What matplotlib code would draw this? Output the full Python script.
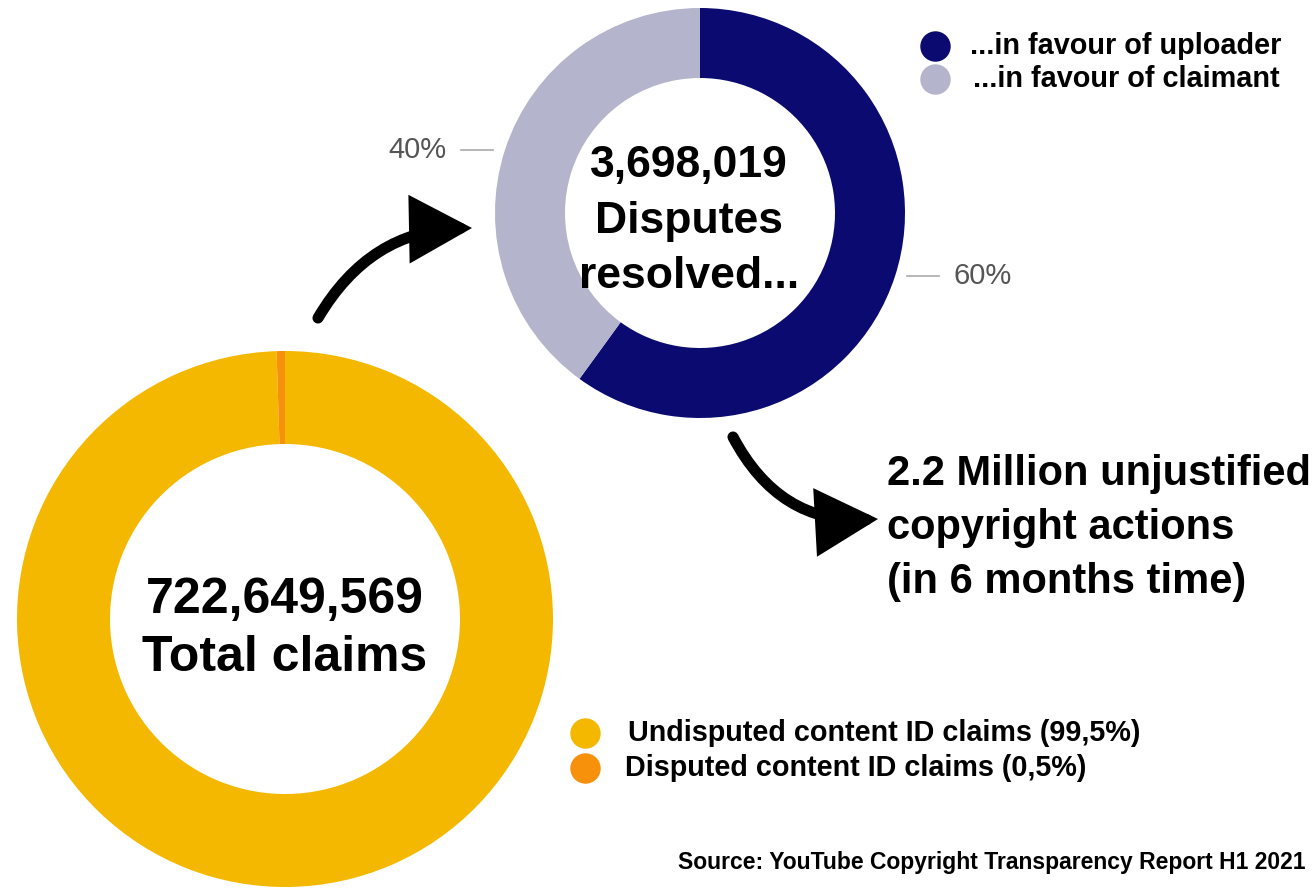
import numpy as np
import matplotlib.pyplot as plt
from matplotlib.patches import FancyArrowPatch

plt.rcParams['font.family'] = ['Liberation Sans', 'DejaVu Sans']

# data
total_labels = ['Undisputed content ID claims (99,5%)', 'Disputed content ID claims (0,5%)']
total_shares = [99.5, 0.5]
total_colors = ['#f5b800', '#f7900a']
total_count = '722,649,569'

dispute_labels = ['...in favour of uploader', '...in favour of claimant']
dispute_shares = [60, 40]
dispute_colors = ['#0a0a70', '#b4b4cc']
dispute_count = '3,698,019'

callout = '2.2 Million unjustified\ncopyright actions\n(in 6 months time)'
source = 'Source: YouTube Copyright Transparency Report H1 2021'

W, H = 1316, 889
fig = plt.figure(figsize=(W / 100, H / 100), dpi=100)
ax = fig.add_axes([0, 0, 1, 1])
ax.set_xlim(0, W)
ax.set_ylim(0, H)
ax.set_aspect('equal')
ax.axis('off')

# big donut (total claims)
big_c, big_r = (285, H - 619), 268
ax.pie(total_shares, colors=total_colors, startangle=90, counterclock=False,
       radius=big_r, center=big_c, frame=True,
       wedgeprops=dict(width=big_r - 175, linewidth=0))
ax.text(big_c[0], H - 629, total_count + '\nTotal claims', ha='center', va='center',
        fontsize=36, fontweight='bold', linespacing=1.36)

# small donut (disputes)
sm_c, sm_r = (700, H - 213), 205
wedges, _ = ax.pie(dispute_shares, colors=dispute_colors, startangle=90, counterclock=False,
                   radius=sm_r, center=sm_c, frame=True,
                   wedgeprops=dict(width=sm_r - 135, linewidth=0))
ax.text(689, H - 221, dispute_count + '\nDisputes\nresolved...', ha='center', va='center',
        fontsize=32, fontweight='bold', linespacing=1.44)

# percentage labels with horizontal leaders
for w, share in zip(wedges, dispute_shares):
    mid = np.deg2rad((w.theta1 + w.theta2) / 2)
    px = sm_c[0] + sm_r * np.cos(mid)
    py = sm_c[1] + sm_r * np.sin(mid)
    side = 1 if np.cos(mid) > 0 else -1
    x0 = px + side * 12
    x1 = x0 + side * 32
    ax.plot([x0, x1], [py, py], color='#aaaaaa', lw=1.2)
    ax.text(x1 + side * 15, py, f'{share}%', ha='left' if side > 0 else 'right',
            va='center', fontsize=21, color='#555555')

# arrows
for tail, tip, rad in [((318, H - 318), (472, H - 228), -0.28),
                       ((733, H - 437), (878, H - 519), 0.32)]:
    arr = FancyArrowPatch(tail, tip, connectionstyle=f'arc3,rad={rad}',
                          arrowstyle='-|>,head_length=1.65,head_width=0.9',
                          mutation_scale=20, lw=8, color='black',
                          shrinkA=0, shrinkB=0, capstyle='round', joinstyle='miter')
    ax.add_patch(arr)

ax.text(887, H - 528, callout, ha='left', va='center', fontsize=30, fontweight='bold',
        linespacing=1.46)

# legends
for i, (lab, col) in enumerate(zip(dispute_labels, dispute_colors)):
    y = H - (46 + 33 * i)
    ax.scatter([935], [y], s=480, color=col, lw=0)
    ax.text(970 + 3 * i, y, lab, ha='left', va='center', fontsize=20.8, fontweight='bold')

for i, (lab, col) in enumerate(zip(total_labels, total_colors)):
    y = H - (733 + 35 * i)
    ax.scatter([585], [y], s=480, color=col, lw=0)
    ax.text(628 - 3 * i, y, lab, ha='left', va='center', fontsize=20.7, fontweight='bold')

ax.text(1305, H - 862, source, ha='right', va='center', fontsize=16.5, fontweight='bold')

ax.set_xlim(0, W)
ax.set_ylim(0, H)
fig.savefig('out.png', dpi=100)
